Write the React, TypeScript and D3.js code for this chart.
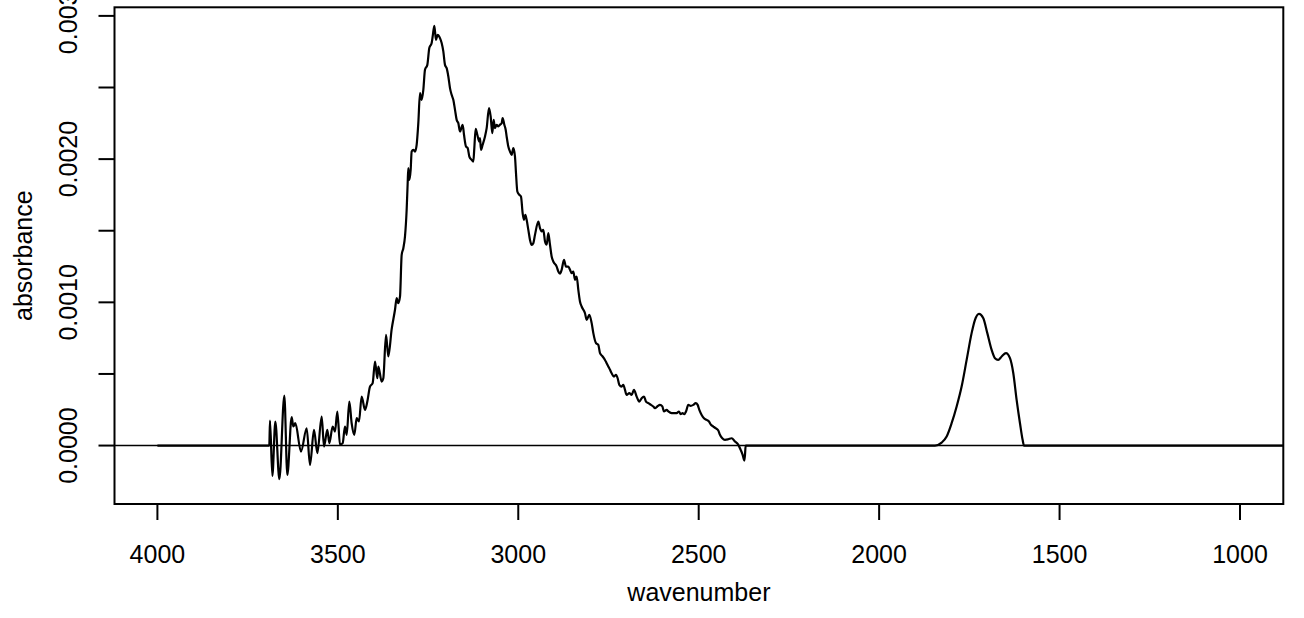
import React from "react";
import * as d3 from "d3";

// ---- data ----
const wavenumber: number[] = [
  4000, 3690, 3688, 3681.5, 3673.2, 3662.1, 3648.3, 3640, 3627.9, 3623.3, 3617.8,
  3602.1, 3586.4, 3577.1, 3566.1, 3556.8, 3544.8, 3538.3, 3529.1, 3523.6, 3514.3,
  3507.9, 3501.4, 3494.0, 3486.6, 3480.2, 3475.5, 3468.2, 3461.7, 3454.3, 3447.8,
  3441.4, 3434.0, 3424.7, 3418.3, 3410.9, 3403.5, 3397.0, 3390.6, 3387.8, 3378.5,
  3374.0, 3366.5, 3360.1, 3350.8, 3341.6, 3337.0, 3332.4, 3327.7, 3323.1, 3318.5,
  3313.9, 3309.3, 3306.5, 3304.7, 3301.9, 3298.2, 3295.4, 3290.8, 3286.2, 3281.6,
  3277.0, 3272.3, 3267.7, 3263.1, 3258.5, 3252.0, 3246.5, 3240.0, 3237.2, 3232.6,
  3228.0, 3223.4, 3216.9, 3212.3, 3207.7, 3203.1, 3198.4, 3193.8, 3189.2, 3184.6,
  3180.0, 3175.3, 3170.7, 3166.1, 3161.5, 3154.1, 3150.4, 3144.9, 3140.2, 3135.6,
  3129.2, 3124.6, 3121.8, 3118.1, 3113.5, 3107.9, 3106.1, 3103.3, 3098.7, 3092.2,
  3087.6, 3081.1, 3076.5, 3071.9, 3068.2, 3064.5, 3059.9, 3055.3, 3050.7, 3046.0,
  3043.3, 3038.6, 3034.9, 3032.2, 3027.6, 3023.0, 3018.3, 3013.7, 3009.1, 3006.3,
  3002.6, 2997.1, 2992.5, 2987.9, 2984.2, 2980.5, 2976.8, 2972.1, 2967.5, 2962.9,
  2958.3, 2953.7, 2944.4, 2939.8, 2935.2, 2930.6, 2925.9, 2921.3, 2916.7, 2912.1,
  2907.5, 2902.9, 2893.6, 2889.0, 2884.4, 2879.8, 2873.3, 2867.8, 2861.3, 2856.7,
  2852.1, 2847.5, 2842.8, 2838.2, 2833.6, 2829.0, 2824.4, 2815.1, 2810.5, 2803.1,
  2796.6, 2792.0, 2784.6, 2778.2, 2773.5, 2766.2, 2759.7, 2755.1, 2750.5, 2745.8,
  2741.2, 2734.8, 2729.2, 2724.6, 2720.0, 2713.5, 2708.9, 2704.3, 2699.7, 2692.3,
  2685.8, 2679.4, 2671.9, 2664.6, 2658.1, 2651.6, 2646.1, 2639.6, 2632.2, 2625.8,
  2621.1, 2614.7, 2607.3, 2600.8, 2596.2, 2588.8, 2584.2, 2575.0, 2568.5, 2561.1,
  2554.7, 2550.0, 2544.5, 2540.1, 2535.2, 2528.8, 2522.3, 2514.9, 2508.4, 2502.9,
  2498.3, 2491.8, 2485.4, 2478.0, 2471.5, 2466.0, 2459.5, 2453.1, 2445.7, 2441.1,
  2434.6, 2427.2, 2418.0, 2408.7, 2399.5, 2390.2, 2383.7, 2378.2, 2373.6, 2371.7,
  2369.9, 1845.3, 1826.8, 1812.9, 1799.1, 1785.2, 1771.4, 1757.5, 1743.7, 1734.4,
  1723.3, 1711.3, 1700.2, 1688.2, 1679.0, 1670.2, 1660.5, 1648.5, 1637.4, 1628.2,
  1619.0, 1609.7, 1602.4, 1598.6, 650,
];

const absorbance: number[] = [
  0, 0, 1.75e-4, -2.12e-4, 1.68e-4, -2.35e-4, 3.49e-4, -2.05e-4, 1.98e-4, 1.33e-4, 1.56e-4,
  -0.42e-4, 1.21e-4, -1.35e-4, 1.10e-4, -0.53e-4, 2.03e-4, -0.07e-4, 1.10e-4, 0.17e-4, 1.33e-4,
  0.98e-4, 2.38e-4, 0.05e-4, 0.17e-4, 1.33e-4, 0.75e-4, 3.07e-4, 1.56e-4, 0.75e-4, 1.91e-4,
  1.68e-4, 3.42e-4, 2.49e-4, 3.07e-4, 4.12e-4, 4.36e-4, 5.87e-4, 4.70e-4, 5.52e-4, 4.47e-4,
  4.70e-4, 7.73e-4, 6.22e-4, 8.13e-4, 9.48e-4, 10.29e-4, 9.94e-4, 10.41e-4, 13.32e-4, 13.78e-4,
  14.60e-4, 16.46e-4, 18.32e-4, 19.37e-4, 18.55e-4, 19.25e-4, 20.53e-4, 20.65e-4, 20.53e-4, 21.0e-4,
  22.51e-4, 24.61e-4, 24.14e-4, 24.84e-4, 26.24e-4, 26.58e-4, 27.75e-4, 28.10e-4, 28.56e-4, 29.31e-4,
  28.33e-4, 28.68e-4, 28.45e-4, 28.10e-4, 27.52e-4, 26.58e-4, 26.35e-4, 25.77e-4, 24.96e-4, 24.49e-4,
  24.14e-4, 23.44e-4, 22.74e-4, 22.51e-4, 21.93e-4, 22.40e-4, 21.70e-4, 20.88e-4, 20.77e-4, 20.18e-4,
  19.95e-4, 19.83e-4, 20.77e-4, 22.12e-4, 21.70e-4, 21.23e-4, 21.46e-4, 20.65e-4, 21.0e-4, 21.58e-4,
  22.16e-4, 23.56e-4, 22.98e-4, 21.81e-4, 22.74e-4, 22.16e-4, 22.40e-4, 22.28e-4, 22.40e-4, 22.51e-4,
  22.86e-4, 22.40e-4, 22.05e-4, 21.58e-4, 20.88e-4, 20.53e-4, 20.30e-4, 20.77e-4, 20.18e-4, 19.02e-4,
  17.74e-4, 17.51e-4, 17.39e-4, 16.23e-4, 15.76e-4, 16.11e-4, 15.76e-4, 15.06e-4, 14.36e-4, 14.01e-4,
  14.13e-4, 14.71e-4, 15.64e-4, 15.18e-4, 14.95e-4, 15.06e-4, 14.25e-4, 14.02e-4, 14.83e-4, 14.02e-4,
  13.20e-4, 12.85e-4, 12.50e-4, 12.15e-4, 12.0e-4, 12.27e-4, 12.97e-4, 12.50e-4, 12.50e-4, 12.27e-4,
  12.04e-4, 12.15e-4, 11.57e-4, 11.80e-4, 10.87e-4, 10.06e-4, 9.71e-4, 9.24e-4, 8.78e-4, 9.13e-4,
  8.55e-4, 7.85e-4, 7.15e-4, 7.03e-4, 6.45e-4, 6.22e-4, 5.98e-4, 5.75e-4, 5.52e-4, 5.29e-4,
  5.05e-4, 4.82e-4, 4.94e-4, 4.70e-4, 4.24e-4, 4.12e-4, 4.24e-4, 3.89e-4, 3.54e-4, 3.66e-4,
  3.54e-4, 3.89e-4, 3.42e-4, 3.07e-4, 3.31e-4, 3.42e-4, 3.07e-4, 2.96e-4, 2.84e-4, 2.73e-4,
  2.61e-4, 2.73e-4, 2.84e-4, 2.73e-4, 2.38e-4, 2.49e-4, 2.38e-4, 2.26e-4, 2.26e-4, 2.26e-4,
  2.38e-4, 2.19e-4, 2.26e-4, 2.19e-4, 2.38e-4, 2.84e-4, 2.77e-4, 2.84e-4, 2.96e-4, 2.84e-4,
  2.49e-4, 2.14e-4, 1.91e-4, 1.79e-4, 1.68e-4, 1.45e-4, 1.33e-4, 1.21e-4, 1.05e-4, 0.75e-4,
  0.51e-4, 0.40e-4, 0.44e-4, 0.51e-4, 0.28e-4, 0.05e-4, -0.30e-4, -0.65e-4, -1.05e-4, -0.65e-4,
  0, 0, 0.21e-4, 0.63e-4, 1.56e-4, 2.73e-4, 4.12e-4, 5.98e-4, 7.85e-4, 8.78e-4,
  9.20e-4, 8.89e-4, 7.85e-4, 6.68e-4, 6.10e-4, 5.98e-4, 6.22e-4, 6.45e-4, 6.10e-4, 5.05e-4,
  3.19e-4, 1.56e-4, 0.40e-4, 0, 0,
];

const xTicks: number[] = [4000, 3500, 3000, 2500, 2000, 1500, 1000];
const yTicks: number[] = [0, 0.0005, 0.001, 0.0015, 0.002, 0.0025, 0.003];
const yLabelTicks: number[] = [0, 0.001, 0.002, 0.003];
const xLimits: [number, number] = [4118.9, 880];
const yLimits: [number, number] = [-0.000408, 0.00306];
const xTitle = "wavenumber";
const yTitle = "absorbance";

// ---- layout ----
const W = 1304;
const H = 618;
const box = { left: 114.5, right: 1283.3, top: 7.3, bottom: 504 };
const FONT = "'Liberation Sans', Arial, Helvetica, sans-serif";
const FS = 25;
const TICK = 16;

export default function App() {
  const x = d3.scaleLinear().domain(xLimits).range([box.left, box.right]);
  const y = d3.scaleLinear().domain(yLimits).range([box.bottom, box.top]);

  const points: [number, number][] = wavenumber.map((w, i) => [w, absorbance[i]]);
  const line = d3
    .line<[number, number]>()
    .x((d) => x(d[0]))
    .y((d) => y(d[1]))
    .curve(d3.curveMonotoneX);

  const fmt = d3.format(".4f");

  return (
    <svg
      width={W}
      height={H}
      viewBox={`0 0 ${W} ${H}`}
      style={{ position: "absolute", left: 0, top: 0, display: "block", background: "#fff" }}
      fontFamily={FONT}
    >
      <defs>
        <clipPath id="plotclip">
          <rect x={box.left} y={box.top} width={box.right - box.left} height={box.bottom - box.top} />
        </clipPath>
      </defs>
      <rect x={0} y={0} width={W} height={H} fill="#fff" />

      {/* zero reference line */}
      <line x1={box.left} x2={box.right} y1={y(0)} y2={y(0)} stroke="#000" strokeWidth={1.5} />

      {/* spectrum */}
      <path
        d={line(points) || ""}
        fill="none"
        stroke="#000"
        strokeWidth={2.2}
        strokeLinejoin="round"
        clipPath="url(#plotclip)"
      />

      {/* box */}
      <rect
        x={box.left}
        y={box.top}
        width={box.right - box.left}
        height={box.bottom - box.top}
        fill="none"
        stroke="#000"
        strokeWidth={2}
      />

      {/* x axis */}
      {xTicks.map((t) => (
        <g key={`xt${t}`}>
          <line x1={x(t)} x2={x(t)} y1={box.bottom} y2={box.bottom + TICK} stroke="#000" strokeWidth={2} />
          <text x={x(t)} y={563} fontSize={FS} textAnchor="middle" fill="#000">
            {t}
          </text>
        </g>
      ))}

      {/* y axis */}
      {yTicks.map((t) => (
        <line
          key={`yt${t}`}
          x1={box.left - TICK}
          x2={box.left}
          y1={y(t)}
          y2={y(t)}
          stroke="#000"
          strokeWidth={2}
        />
      ))}
      {yLabelTicks.map((t) => (
        <text
          key={`yl${t}`}
          transform={`translate(76.5,${y(t)}) rotate(-90)`}
          fontSize={FS}
          textAnchor="middle"
          fill="#000"
        >
          {fmt(t)}
        </text>
      ))}

      {/* titles */}
      <text x={(box.left + box.right) / 2} y={601} fontSize={FS} textAnchor="middle" fill="#000">
        {xTitle}
      </text>
      <text
        transform={`translate(32,${(box.top + box.bottom) / 2}) rotate(-90)`}
        fontSize={FS}
        textAnchor="middle"
        fill="#000"
      >
        {yTitle}
      </text>
    </svg>
  );
}
